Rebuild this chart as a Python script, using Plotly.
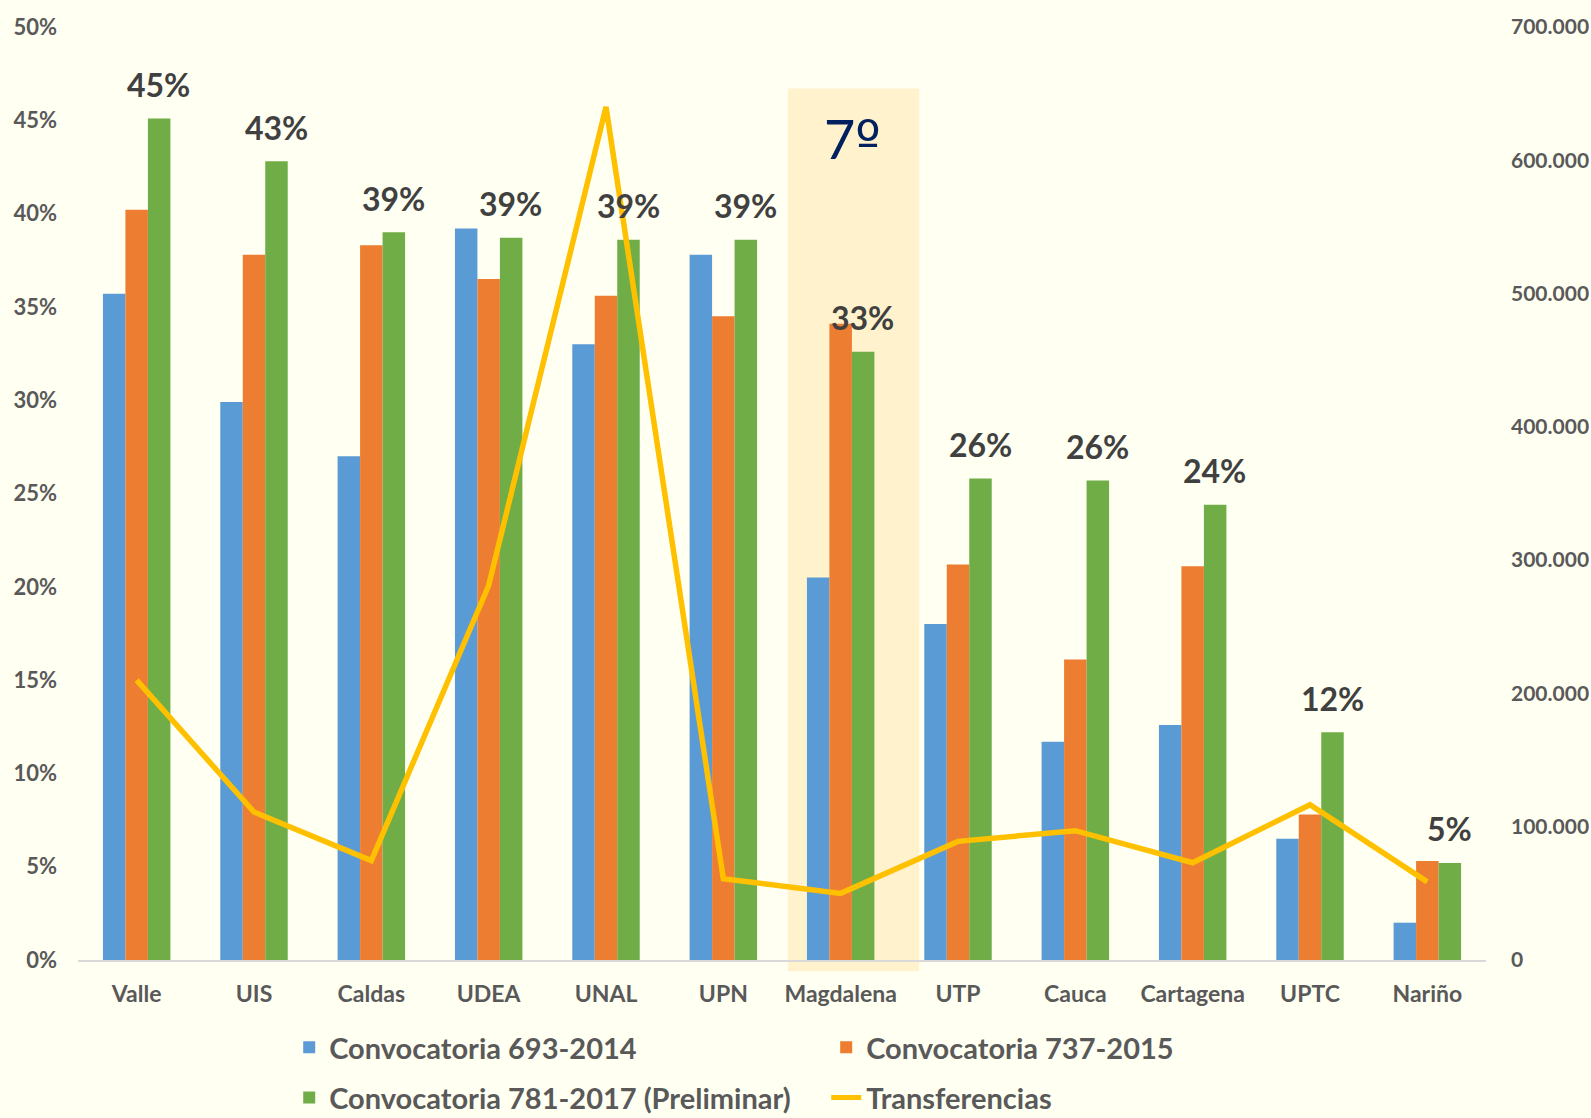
import plotly.graph_objects as go

categories = ["Valle", "UIS", "Caldas", "UDEA", "UNAL", "UPN", "Magdalena",
              "UTP", "Cauca", "Cartagena", "UPTC", "Nariño"]
conv_2014 = [35.7, 29.9, 27.0, 39.2, 33.0, 37.8, 20.5, 18.0, 11.7, 12.6, 6.5, 2.0]
conv_2015 = [40.2, 37.8, 38.3, 36.5, 35.6, 34.5, 34.1, 21.2, 16.1, 21.1, 7.8, 5.3]
conv_2017 = [45.1, 42.8, 39.0, 38.7, 38.6, 38.6, 32.6, 25.8, 25.7, 24.4, 12.2, 5.2]
transferencias = [210000, 111000, 74600, 281000, 640000, 61000, 50000,
                  89000, 97000, 73000, 116500, 58600]
labels_2017 = ["45%", "43%", "39%", "39%", "39%", "39%", "33%", "26%", "26%", "24%", "12%", "5%"]

left_ticks = [0, 5, 10, 15, 20, 25, 30, 35, 40, 45, 50]
left_ticktext = ["0%", "5%", "10%", "15%", "20%", "25%", "30%", "35%", "40%", "45%", "50%"]
right_ticks = [0, 100000, 200000, 300000, 400000, 500000, 600000, 700000]
right_ticktext = ["0", "100.000", "200.000", "300.000", "400.000", "500.000", "600.000", "700.000"]

highlight = "Magdalena"
highlight_label = "7<span style='font-family:DejaVu Sans'>º</span>"

FONT = "Lato"
GRAY = "#595959"
BG = "#FFFFF2"

fig = go.Figure()
fig.add_trace(go.Bar(name="Convocatoria 693-2014", x=categories, y=conv_2014,
                     marker=dict(color="#5B9BD5", line=dict(width=0)), legend="legend"))
fig.add_trace(go.Bar(name="Convocatoria 737-2015", x=categories, y=conv_2015,
                     marker=dict(color="#ED7D31", line=dict(width=0)), legend="legend"))
fig.add_trace(go.Bar(name="Convocatoria 781-2017 (Preliminar)", x=categories, y=conv_2017,
                     marker=dict(color="#70AD47", line=dict(width=0)), legend="legend2"))
fig.add_trace(go.Scatter(name="Transferencias", x=categories, y=transferencias,
                         yaxis="y2", mode="lines", legend="legend2",
                         line=dict(color="#FFC000", width=5.5)))

# value labels above green bars
for c, v, t in zip(categories, conv_2017, labels_2017):
    fig.add_annotation(x=c, y=v, xref="x", yref="y", text=t, showarrow=False,
                       xshift=22, yshift=34, yanchor="middle",
                       font=dict(family=FONT, size=32, color="#404040", weight="bold"))

idx = categories.index(highlight)
fig.add_shape(type="rect", xref="x", yref="paper", x0=idx - 0.45, x1=idx + 0.67,
              y0=-0.012, y1=0.934, fillcolor="#FFF2CC", line=dict(width=0), layer="below")
fig.add_annotation(x=idx + 0.1, y=44, xref="x", yref="y", text=highlight_label,
                   showarrow=False, font=dict(family=FONT, size=54, color="#002060"))

legend_style = dict(orientation="h", xanchor="left", yanchor="top",
                    xref="paper", yref="container",
                    entrywidth=492, entrywidthmode="pixels",
                    font=dict(family=FONT, size=29, color=GRAY, weight="bold"),
                    bgcolor="rgba(0,0,0,0)", itemsizing="constant")

fig.update_layout(
    width=1591, height=1118,
    paper_bgcolor=BG, plot_bgcolor=BG,
    margin=dict(l=78, r=105, t=27, b=158, autoexpand=False),
    barmode="group", bargap=0.425, bargroupgap=0,
    font=dict(family=FONT, color=GRAY),
    xaxis=dict(showgrid=False, showline=True, linecolor="#D9D9D9", linewidth=2,
               tickfont=dict(family=FONT, size=23, color=GRAY, weight="bold"),
               ticks="", ticklabelstandoff=12, automargin=False),
    yaxis=dict(range=[0, 50], tickvals=left_ticks, ticktext=left_ticktext,
               showgrid=False, zeroline=False, showline=False, ticks="",
               tickfont=dict(family=FONT, size=22, color=GRAY, weight="bold"),
               ticklabelstandoff=20, automargin=False),
    yaxis2=dict(range=[0, 700000], tickvals=right_ticks, ticktext=right_ticktext,
                overlaying="y", side="right", showgrid=False, zeroline=False,
                showline=False, ticks="",
                tickfont=dict(family=FONT, size=21, color=GRAY, weight="bold"),
                ticklabelstandoff=24, automargin=False),
    legend=dict(x=0.150, y=0.0859, **legend_style),
    legend2=dict(x=0.150, y=0.0410, **legend_style),
    showlegend=True,
)

fig.write_html("out.html", config={"displayModeBar": False},
               post_script="document.body.style.margin='0';")
